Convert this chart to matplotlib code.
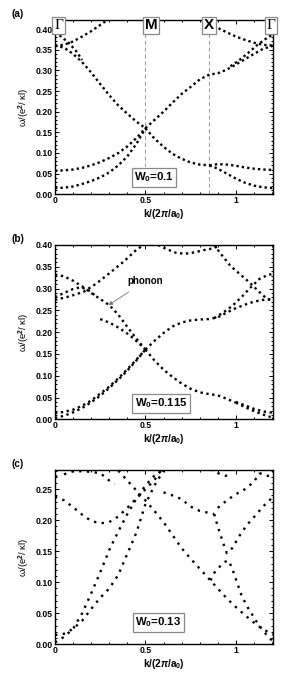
import matplotlib
matplotlib.use('Agg')
import matplotlib.pyplot as plt
from matplotlib.ticker import MultipleLocator, FormatStrFormatter, FixedLocator, FixedFormatter

plt.rcParams['font.family'] = ['Liberation Sans', 'DejaVu Sans']
plt.rcParams['font.weight'] = 'bold'
plt.rcParams['mathtext.fontset'] = 'custom'
plt.rcParams['mathtext.rm'] = 'Liberation Sans:bold'
plt.rcParams['mathtext.it'] = 'Liberation Sans:bold:italic'
plt.rcParams['mathtext.bf'] = 'Liberation Sans:bold'

# path Gamma -> M -> X -> Gamma
k_M = 0.5
k_X = 0.854
k_end = 1.207

# ---------------- panel (a), W0 = 0.1 ----------------
a_k_left = [0, 0.05, 0.1, 0.15, 0.2, 0.25, 0.3, 0.35, 0.4, 0.45, 0.5]
a_w_ac1 = [0.015, 0.016, 0.019, 0.025, 0.032, 0.041, 0.053, 0.07, 0.092, 0.122, 0.16]
a_w_ac2 = [0.057, 0.058, 0.06, 0.064, 0.07, 0.078, 0.088, 0.1, 0.116, 0.136, 0.16]
a_w_down = [0.36, 0.355, 0.34, 0.32, 0.295, 0.267, 0.24, 0.215, 0.195, 0.176, 0.16]
a_k_top = [0, 0.04, 0.08, 0.12, 0.15]
a_w_top = [0.392, 0.38, 0.365, 0.345, 0.325]
a_k_up = [0, 0.05, 0.1, 0.15, 0.2, 0.25, 0.3]
a_w_up = [0.36, 0.362, 0.37, 0.382, 0.395, 0.41, 0.425]
a_k_mx = [0.5, 0.55, 0.6, 0.65, 0.7, 0.75, 0.8, 0.854, 0.9, 0.95, 1.0, 1.05, 1.1, 1.15, 1.207]
a_w_mx = [0.16, 0.18, 0.2, 0.222, 0.243, 0.26, 0.278, 0.29, 0.293, 0.302, 0.314, 0.327, 0.34, 0.352, 0.36]
a_k_split = [0.97, 1.02, 1.07, 1.12, 1.17, 1.207]
a_w_split = [0.31, 0.325, 0.343, 0.362, 0.378, 0.388]
a_k_low = [0.5, 0.55, 0.6, 0.65, 0.7, 0.75, 0.8, 0.854]
a_w_low = [0.16, 0.135, 0.115, 0.098, 0.086, 0.077, 0.072, 0.07]
a_k_xg = [0.854, 0.9, 0.95, 1.0, 1.05, 1.1, 1.15, 1.207]
a_w_xg1 = [0.07, 0.073, 0.072, 0.069, 0.065, 0.062, 0.06, 0.059]
a_w_xg2 = [0.07, 0.062, 0.05, 0.038, 0.028, 0.021, 0.017, 0.015]
a_k_xtop = [0.86, 0.9, 0.95, 1.0, 1.05, 1.1, 1.15, 1.207]
a_w_xtop = [0.42, 0.403, 0.392, 0.382, 0.374, 0.367, 0.362, 0.36]

# ---------------- panel (b), W0 = 0.115 ----------------
b_k_left = [0, 0.05, 0.1, 0.15, 0.2, 0.25, 0.3, 0.35, 0.4, 0.45, 0.5]
b_w_ac1 = [0.014, 0.017, 0.022, 0.031, 0.043, 0.059, 0.075, 0.094, 0.115, 0.137, 0.16]
b_w_ac2 = [0.003, 0.008, 0.016, 0.026, 0.039, 0.054, 0.072, 0.091, 0.112, 0.135, 0.16]
b_w_down = [0.332, 0.328, 0.318, 0.305, 0.29, 0.276, 0.262, 0.24, 0.212, 0.185, 0.16]
b_k_band = [0.25, 0.3, 0.34, 0.39, 0.43, 0.47, 0.5]
b_w_band = [0.23, 0.222, 0.213, 0.2, 0.187, 0.172, 0.16]
b_k_up = [0, 0.08, 0.16, 0.23, 0.3, 0.38, 0.45, 0.49]
b_w_up = [0.274, 0.282, 0.293, 0.312, 0.335, 0.362, 0.389, 0.40]
b_k_hump = [0, 0.05, 0.1, 0.14, 0.18, 0.22]
b_w_hump = [0.28, 0.29, 0.299, 0.303, 0.298, 0.285]
b_k_mx = [0.5, 0.55, 0.6, 0.65, 0.7, 0.75, 0.8, 0.85, 0.9, 0.95, 1.0, 1.05, 1.1, 1.15, 1.207]
b_w_mx = [0.16, 0.18, 0.198, 0.213, 0.222, 0.227, 0.229, 0.23, 0.234, 0.245, 0.255, 0.263, 0.27, 0.274, 0.276]
b_k_low = [0.5, 0.55, 0.6, 0.65, 0.7, 0.75, 0.8, 0.85, 0.9, 0.95, 1.0]
b_w_low = [0.16, 0.135, 0.114, 0.097, 0.082, 0.07, 0.062, 0.058, 0.055, 0.047, 0.038]
b_k_end = [1.0, 1.05, 1.1, 1.15, 1.207]
b_w_end1 = [0.038, 0.028, 0.019, 0.011, 0.003]
b_w_end2 = [0.04, 0.032, 0.024, 0.018, 0.015]
b_k_dip = [0.57, 0.62, 0.67, 0.72, 0.77, 0.82, 0.87, 0.92]
b_w_dip = [0.40, 0.39, 0.382, 0.38, 0.383, 0.388, 0.392, 0.40]
b_k_rdown = [0.88, 0.92, 0.97, 1.02, 1.07, 1.12, 1.17, 1.207]
b_w_rdown = [0.40, 0.378, 0.352, 0.334, 0.316, 0.296, 0.277, 0.272]
b_k_arc = [0.88, 0.93, 0.98, 1.03, 1.08, 1.13, 1.18, 1.207]
b_w_arc = [0.232, 0.245, 0.26, 0.28, 0.302, 0.322, 0.332, 0.333]

# ---------------- panel (c), W0 = 0.13 ----------------
c_k_min = [0, 0.05, 0.1, 0.15, 0.2, 0.25, 0.3, 0.35, 0.4, 0.45, 0.5, 0.55, 0.58]
c_w_min = [0.238, 0.232, 0.221, 0.209, 0.199, 0.195, 0.197, 0.206, 0.22, 0.235, 0.25, 0.265, 0.278]
c_k_rise = [0, 0.05, 0.1, 0.15, 0.2, 0.25, 0.3, 0.35, 0.4, 0.45, 0.5, 0.55, 0.6]
c_w_rise1 = [0.003, 0.012, 0.025, 0.05, 0.082, 0.116, 0.152, 0.182, 0.21, 0.235, 0.256, 0.272, 0.282]
c_w_rise2 = [0.015, 0.017, 0.025, 0.038, 0.057, 0.075, 0.09, 0.112, 0.146, 0.18, 0.226, 0.256, 0.28]
c_k_fall = [0.35, 0.4, 0.45, 0.5, 0.55, 0.6, 0.65, 0.7, 0.75, 0.8, 0.85, 0.9, 0.95, 1.0, 1.05, 1.1, 1.15, 1.207]
c_w_fall = [0.28, 0.264, 0.248, 0.232, 0.215, 0.197, 0.176, 0.155, 0.138, 0.122, 0.106, 0.09, 0.074, 0.06, 0.047, 0.035, 0.024, 0.016]
c_k_mid = [0.6, 0.65, 0.7, 0.75, 0.8, 0.85, 0.88]
c_w_mid = [0.245, 0.24, 0.234, 0.222, 0.215, 0.212, 0.21]
c_k_vee = [0.88, 0.9, 0.93, 0.95, 0.98, 1.02, 1.06, 1.1, 1.15, 1.207]
c_w_vee = [0.21, 0.19, 0.163, 0.147, 0.155, 0.175, 0.192, 0.205, 0.222, 0.238]
c_k_peak = [0.86, 0.88, 0.91, 0.94, 0.96, 0.98, 1.0, 1.03, 1.06, 1.09, 1.12, 1.15, 1.18, 1.207]
c_w_peak = [0.103, 0.115, 0.125, 0.133, 0.135, 0.122, 0.105, 0.08, 0.062, 0.048, 0.034, 0.022, 0.012, 0.004]
c_k_top1 = [0.86, 0.9, 0.94, 0.98]
c_w_top1 = [0.282, 0.276, 0.272, 0.271]
c_k_top2 = [0.9, 0.95, 1.0, 1.05, 1.1, 1.13]
c_w_top2 = [0.22, 0.232, 0.242, 0.25, 0.262, 0.276]
c_k_top3 = [1.13, 1.17, 1.207]
c_w_top3 = [0.276, 0.272, 0.27]
c_k_gl = [0, 0.02, 0.04]
c_w_gl = [0.271, 0.270, 0.271]
c_k_hump = [0.05, 0.1, 0.15, 0.2, 0.25, 0.3, 0.33]
c_w_hump = [0.274, 0.279, 0.279, 0.278, 0.276, 0.264, 0.259]

branches_a = [(a_k_left, a_w_ac1), (a_k_left, a_w_ac2), (a_k_left, a_w_down),
              (a_k_top, a_w_top), (a_k_up, a_w_up), (a_k_mx, a_w_mx),
              (a_k_split, a_w_split), (a_k_low, a_w_low), (a_k_xg, a_w_xg1),
              (a_k_xg, a_w_xg2), (a_k_xtop, a_w_xtop)]
branches_b = [(b_k_left, b_w_ac1), (b_k_left, b_w_ac2), (b_k_left, b_w_down),
              (b_k_band, b_w_band), (b_k_up, b_w_up), (b_k_hump, b_w_hump),
              (b_k_mx, b_w_mx), (b_k_low, b_w_low), (b_k_end, b_w_end1),
              (b_k_end, b_w_end2), (b_k_dip, b_w_dip), (b_k_rdown, b_w_rdown),
              (b_k_arc, b_w_arc)]
branches_c = [(c_k_min, c_w_min), (c_k_rise, c_w_rise1), (c_k_rise, c_w_rise2),
              (c_k_fall, c_w_fall), (c_k_mid, c_w_mid), (c_k_vee, c_w_vee),
              (c_k_peak, c_w_peak), (c_k_top1, c_w_top1), (c_k_top2, c_w_top2),
              (c_k_top3, c_w_top3), (c_k_gl, c_w_gl), (c_k_hump, c_w_hump)]

fig = plt.figure(figsize=(2.91, 6.78), dpi=100)

W, H = 291.0, 678.0
left = 55 / W
width = 218.3 / W
height = 174.3 / H
tops = [20, 245, 470]

panels = [
    ('(a)', branches_a, 0.422, 'W$_\\mathrm{0}$=0.1', (0.454, 0.096), 1.3),
    ('(b)', branches_b, 0.40, 'W$_\\mathrm{0}$=0.115', (0.485, 0.092), 1.5),
    ('(c)', branches_c, 0.281, 'W$_\\mathrm{0}$=0.13', (0.473, 0.125), 2.3),
]

axes = []
for (lab, branches, ytop, wlab, wpos, gap), top in zip(panels, tops):
    ax = fig.add_axes([left, 1 - (top + 174.3) / H, width, height])
    axes.append(ax)
    for k, w in branches:
        ax.plot(k, w, color='black', lw=1.7, linestyle=(0, (1, gap)),
                dash_capstyle='butt')
    ax.set_xlim(0, k_end)
    ax.set_ylim(0, ytop)
    ax.xaxis.set_major_locator(FixedLocator([0, 0.5, 1]))
    ax.xaxis.set_major_formatter(FixedFormatter(['0', '0.5', '1']))
    ax.xaxis.set_minor_locator(MultipleLocator(0.1))
    ax.yaxis.set_major_locator(MultipleLocator(0.05))
    ax.yaxis.set_minor_locator(MultipleLocator(0.01))
    ax.yaxis.set_major_formatter(FormatStrFormatter('%.2f'))
    ax.tick_params(which='both', direction='in', top=True, right=True,
                   labelsize=6.2, pad=1.5, width=0.7)
    ax.tick_params(which='major', length=3)
    ax.tick_params(which='minor', length=1.5)
    for s in ax.spines.values():
        s.set_linewidth(1.0)
    ax.set_xlabel('k/(2$\\pi$/a$_\\mathrm{0}$)', fontsize=7.2, fontweight='bold', labelpad=1)
    ax.set_ylabel('ω/(e$^\\mathrm{2}$/ κl)', fontsize=6.8, fontweight='normal', labelpad=3)
    ax.text(wpos[0], wpos[1], wlab, transform=ax.transAxes, fontsize=8.2,
            fontweight='bold', ha='center', va='center',
            bbox=dict(boxstyle='square,pad=0.22', fc='white', ec='#888888', lw=0.9))
    fig.text(12 / W, 1 - (top - 6) / H, lab, fontsize=7.2, fontweight='bold',
             ha='left', va='center')

# symmetry points on panel (a)
ax = axes[0]
for kv in [k_M, k_X]:
    ax.axvline(kv, color='#999999', lw=0.7, ls=(0, (4, 3)), zorder=0)
sym_k = [0.02, 0.53, 0.85, 1.195]
sym_lab = ['Γ', 'M', 'X', 'Γ']
for kv, s in zip(sym_k, sym_lab):
    fam = ['Liberation Serif'] if s == 'Γ' else ['Liberation Sans']
    ax.text(kv, 0.409, s, fontsize=11, family=fam,
            fontweight='normal' if s == 'Γ' else 'bold',
            ha='center', va='center', clip_on=False, zorder=5,
            bbox=dict(boxstyle='square,pad=0.12', fc='white', ec='#888888', lw=0.9))

# phonon annotation on panel (b)
axes[1].annotate('phonon', xy=(0.295, 0.262), xytext=(0.50, 0.317),
                 fontsize=7, fontweight='bold', ha='center', va='center',
                 arrowprops=dict(arrowstyle='-|>', color='#777777', lw=0.6,
                                 mutation_scale=6, shrinkA=4, shrinkB=0))

fig.savefig('out.png', dpi=100)
